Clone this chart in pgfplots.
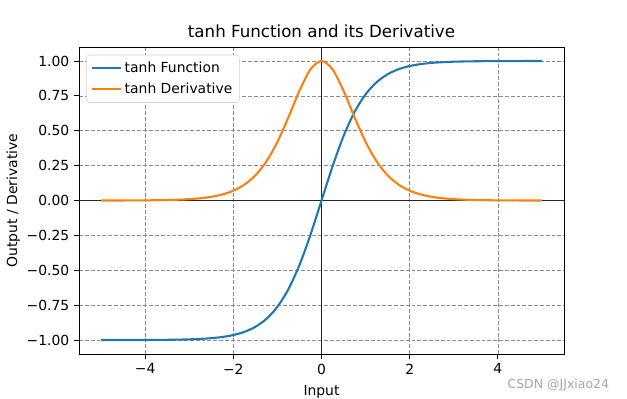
\documentclass[border=0pt]{standalone}
\usepackage{pgfplots}
\pgfplotsset{compat=1.18}
\usepackage{fontspec}
\setmainfont{DejaVu Sans}
\definecolor{tabblue}{HTML}{1F77B4}
\definecolor{taborange}{HTML}{FF7F0E}
\begin{document}
\begin{tikzpicture}[x=0.72pt,y=0.72pt]
\useasboundingbox (-79,-44) rectangle (548,354);
\begin{axis}[
  at={(0,0)}, anchor=south west,
  scale only axis, width=349.2pt, height=221pt,
  xmin=-5.5, xmax=5.5, ymin=-1.1, ymax=1.1,
  xtick={-4,-2,0,2,4},
  xticklabels={−4,−2,0,2,4},
  ytick={-1,-0.75,-0.5,-0.25,0,0.25,0.5,0.75,1},
  yticklabels={−1.00,−0.75,−0.50,−0.25,0.00,0.25,0.50,0.75,1.00},
  tick style={black, line width=0.6pt},
  major tick length=3.5pt,
  tick align=outside, xtick pos=bottom, ytick pos=left,
  axis line style={line width=0.6pt},
  grid=major, grid style={black!45, dash pattern=on 2.8pt off 1.4pt, line width=0.5pt},
  tick label style={font=\fontsize{10}{12}\selectfont},
  title={tanh Function and its Derivative},
  title style={font=\fontsize{12}{14}\selectfont, yshift=-3pt},
  xlabel={Input}, ylabel={Output / Derivative},
  label style={font=\fontsize{10}{12}\selectfont},
  xlabel style={yshift=-1pt},
  ylabel style={yshift=-2pt},
  legend style={at={(0.015,0.975)}, anchor=north west, draw=gray!35, rounded corners=2pt, font=\fontsize{10}{12}\selectfont, row sep=2pt, inner xsep=3pt, inner ysep=3pt},
  legend image code/.code={\draw[#1] (0pt,0pt) -- (21pt,0pt);},
  legend cell align=left,
]
\draw[black!85, line width=0.6pt] (axis cs:-5.5,0) -- (axis cs:5.5,0);
\draw[black!85, line width=0.6pt] (axis cs:0,-1.1) -- (axis cs:0,1.1);
\addplot[tabblue, line width=1.5pt, smooth] coordinates {
(-5,-0.999909) (-4.5,-0.999753) (-4,-0.999329) (-3.75,-0.998894) (-3.5,-0.998178) (-3.25,-0.996998) (-3,-0.995055) (-2.75,-0.991815) (-2.5,-0.986614) (-2.25,-0.978026) (-2,-0.964028) (-1.75,-0.941376) (-1.5,-0.905148) (-1.25,-0.848284) (-1,-0.761594) (-0.75,-0.635149) (-0.5,-0.462117) (-0.25,-0.244919) (0,0) (0.25,0.244919) (0.5,0.462117) (0.75,0.635149) (1,0.761594) (1.25,0.848284) (1.5,0.905148) (1.75,0.941376) (2,0.964028) (2.25,0.978026) (2.5,0.986614) (2.75,0.991815) (3,0.995055) (3.25,0.996998) (3.5,0.998178) (3.75,0.998894) (4,0.999329) (4.5,0.999753) (5,0.999909)
};
\addlegendentry{tanh Function}
\addplot[taborange, line width=1.5pt, smooth] coordinates {
(-5,0.000182) (-4.5,0.000494) (-4,0.001341) (-3.75,0.002211) (-3.5,0.003641) (-3.25,0.006000) (-3,0.009866) (-2.75,0.016303) (-2.5,0.026592) (-2.25,0.043465) (-2,0.070651) (-1.75,0.113811) (-1.5,0.180707) (-1.25,0.280414) (-1,0.419974) (-0.75,0.596586) (-0.5,0.786448) (-0.25,0.940015) (0,1) (0.25,0.940015) (0.5,0.786448) (0.75,0.596586) (1,0.419974) (1.25,0.280414) (1.5,0.180707) (1.75,0.113811) (2,0.070651) (2.25,0.043465) (2.5,0.026592) (2.75,0.016303) (3,0.009866) (3.25,0.006000) (3.5,0.003641) (3.75,0.002211) (4,0.001341) (4.5,0.000494) (5,0.000182)
};
\addlegendentry{tanh Derivative}
\end{axis}
\node[anchor=east, text=gray!70, font=\fontsize{9}{11}\selectfont] at (535,-31) {CSDN @JJxiao24};
\end{tikzpicture}
\end{document}
